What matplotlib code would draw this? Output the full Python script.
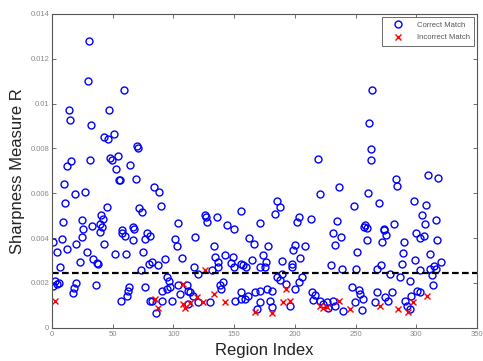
import numpy as np
import matplotlib
matplotlib.use("Agg")
import matplotlib.pyplot as plt

plt.rcParams['font.family'] = ['Liberation Sans', 'DejaVu Sans']

# correct matches (region index, sharpness R)
correct_x = [30.5, 29.4, 59, 14, 15, 32, 47, 43, 46, 51, 70, 71, 16, 12.6, 31, 48, 49, 54,
             53, 64.5, 55, 56, 69, 10, 84, 88, 18.7, 27, 10.7, 45, 72, 74.4, 90, 40, 42,
             8.8, 24.5, 104, 126, 127, 128, 136, 156, 144,
             263.6, 261, 262.5, 262.5, 219, 283, 284, 309.7, 318, 221, 236, 260, 185, 188,
             183.7, 249, 269, 298.5, 308, 305, 316, 307, 203.7, 202, 213.6, 235, 171, 282,
             258, 257, 273,
             25.8, 33, 39.5, 41.4, 39.5, 0.8, 8, 12, 20, 24.5, 28.6, 42.8, 34, 36.8, 38, 23,
             52, 61, 58, 60, 66.5, 67.5, 67, 75, 78, 76.6, 80, 6.6, 73, 4, 57.4, 80.7,
             2.5, 4, 1, 6, 19.8, 18, 17, 36, 63.7, 62.3, 61.5, 56.6, 76.6, 80.7, 86,
             150, 101, 103, 118, 133.7, 107, 93, 82, 87.6, 117, 134, 136.5, 142.5, 149,
             147.5, 150, 156, 137, 120.5, 131.5,
             94.5, 96, 90.3, 94.5, 97, 104, 105.4, 111.7, 113.7, 116.4, 111, 138, 140.6,
             139, 82, 90.3, 98.6, 112.3, 120.5, 130, 150.7, 156,
             162.5, 166.4, 178, 200, 198.8, 208.4, 204, 198, 197.4, 189, 174, 176, 175.5,
             157.6, 164.5, 160, 231.7, 233, 229.5, 171, 189, 185.6, 188, 205.7, 203.7,
             193, 156, 159, 161.7, 167, 171, 177, 181, 171, 168.6, 179.6, 181, 200, 196,
             214, 216.6, 215, 220.8, 223.5, 226.8, 227.6, 231.7,
             259, 273, 275, 300, 306.7, 303, 259, 238, 290, 289.4, 288, 317, 311, 320, 315,
             311.4, 251, 299, 238.6, 250, 271, 267.5, 278.4, 286.7, 295, 303, 312.8, 314,
             271.6,
             247, 253, 253.7, 256.5, 249.6, 255, 240, 233, 267.5, 266, 274, 277, 280,
             290.8, 292, 295.7, 301, 303, 295, 316]
correct_y = [0.01281, 0.0110, 0.01063, 0.00971, 0.00925, 0.00907, 0.00971, 0.00851, 0.00841,
             0.00863, 0.00811, 0.00801, 0.00743, 0.00721, 0.00748, 0.00759, 0.00748, 0.00767,
             0.00708, 0.00725, 0.0066, 0.0066, 0.00663, 0.00642, 0.00626, 0.00604, 0.00599,
             0.00604, 0.00557, 0.0054, 0.00533, 0.00518, 0.00542, 0.00505, 0.00484,
             0.00471, 0.00483, 0.00468, 0.00505, 0.00496, 0.00471, 0.00496, 0.00523, 0.00459,
             0.01063, 0.00913, 0.00796, 0.0075, 0.00752, 0.00665, 0.00631, 0.00681, 0.0067,
             0.00599, 0.00628, 0.00603, 0.00564, 0.0054, 0.00509, 0.00544, 0.00555, 0.00564,
             0.00546, 0.00504, 0.00481, 0.00462, 0.00496, 0.00474, 0.00484, 0.00475, 0.00466,
             0.00464, 0.00459, 0.00449, 0.00441,
             0.0044, 0.00454, 0.00463, 0.00451, 0.00428, 0.00383, 0.00394, 0.00351, 0.00373,
             0.00406, 0.00336, 0.00372, 0.00309, 0.00289, 0.00283, 0.00292, 0.00331, 0.00331,
             0.00421, 0.00409, 0.00451, 0.00439, 0.00391, 0.00338, 0.00421, 0.00394, 0.00286,
             0.00271, 0.00256, 0.00338, 0.00436, 0.00409,
             0.00211, 0.00196, 0.00187, 0.00202, 0.00201, 0.00178, 0.00157, 0.00189, 0.00181,
             0.00163, 0.00144, 0.00121, 0.00181, 0.00121, 0.00066,
             0.00439, 0.00395, 0.00364, 0.00403, 0.00364, 0.00313, 0.00309, 0.00294, 0.00279,
             0.00271, 0.00316, 0.00294, 0.00324, 0.00316, 0.00289, 0.00271, 0.00286, 0.00271,
             0.00238, 0.00256,
             0.00226, 0.00211, 0.00166, 0.00174, 0.00181, 0.00189, 0.00151, 0.00166, 0.00159,
             0.00144, 0.00189, 0.00189, 0.00204, 0.00174, 0.00121, 0.00121, 0.00121, 0.00106,
             0.00114, 0.00114, 0.00121, 0.00129,
             0.00399, 0.00373, 0.00364, 0.00369, 0.00349, 0.00364, 0.00313, 0.00286, 0.00271,
             0.00298, 0.00324, 0.00294, 0.00271, 0.00279, 0.00301, 0.00271, 0.00421, 0.00369,
             0.00279, 0.00271, 0.00241, 0.00226, 0.00214, 0.00226, 0.00204,
             0.00196, 0.00159, 0.00129, 0.00144, 0.00159, 0.00166, 0.00174, 0.00166, 0.00114,
             0.00084, 0.00121, 0.00091, 0.00174, 0.00099, 0.00159, 0.00148, 0.00124, 0.00121,
             0.00106, 0.00114, 0.00088, 0.00121,
             0.00444, 0.00436, 0.00413, 0.00421, 0.0041, 0.00399, 0.00391, 0.00403, 0.00381,
             0.00334, 0.00286, 0.00391, 0.00331, 0.00294, 0.00274, 0.00264, 0.00338, 0.00301,
             0.00264, 0.00264, 0.00279, 0.00264, 0.00241, 0.00226, 0.00211, 0.00256, 0.00234,
             0.00189, 0.00383,
             0.00181, 0.00169, 0.00151, 0.00129, 0.00114, 0.0008, 0.00076, 0.00099, 0.00159,
             0.00114, 0.00136, 0.00121, 0.00159, 0.00121, 0.00099, 0.00144, 0.00166, 0.00159,
             0.00084, 0.00264]

# incorrect matches
incorrect_x = [2.5, 84.5, 87, 108, 108, 109.5, 113.7, 119, 124.6, 133, 142.5, 126,
               167, 181, 193, 190.5, 196, 220.8, 223.5, 226.4,
               236, 245.5, 270, 285, 293.5, 297.6, 308.6]
incorrect_y = [0.00121, 0.0013, 0.00088, 0.00196, 0.00106, 0.00088, 0.00109, 0.00136, 0.00114,
               0.00151, 0.00114, 0.00256,
               0.00069, 0.00064, 0.00174, 0.00114, 0.00121, 0.00099, 0.00088, 0.00091,
               0.00121, 0.00084, 0.00099, 0.00084, 0.00069, 0.00114, 0.00144]

threshold = 0.00245

xticks = [0, 50, 100, 150, 200, 250, 300, 350]
yticks = [0, 0.002, 0.004, 0.006, 0.008, 0.01, 0.012, 0.014]
ytick_labels = ['0', '0.002', '0.004', '0.006', '0.008', '0.01', '0.012', '0.014']

fig = plt.figure(figsize=(4.83, 3.61), dpi=100)
ax = fig.add_axes([52/483, 1-327.8/361, 425/483, 313.8/361])

ax.plot(correct_x, correct_y, 'o', mfc='none', mec='#0000ff', mew=1.0, ms=5,
        label='Correct Match')
ax.plot(incorrect_x, incorrect_y, 'x', color='#ff0000', mew=1.0, ms=4.5,
        label='Incorrect Match')
ax.axhline(threshold, color='black', lw=1.6, ls=(0, (3, 1.5)))

ax.set_xlim(0, 350)
ax.set_ylim(0, 0.014)
ax.set_xticks(xticks)
ax.set_xticklabels([str(t) for t in xticks])
ax.set_yticks(yticks)
ax.set_yticklabels(ytick_labels)
ax.tick_params(direction='in', length=3, width=0.6, top=True, right=True,
               labelsize=5.5, labelcolor='#888888', color='#555555', pad=2)
for s in ax.spines.values():
    s.set_color('#555555')
    s.set_linewidth(0.8)

ax.set_xlabel('Region Index', fontsize=12, color='#222222', labelpad=4)
ax.set_ylabel('Sharpness Measure R', fontsize=12, color='#222222', labelpad=4)

leg = ax.legend(loc='upper right', fontsize=5.5, fancybox=False, framealpha=1,
                edgecolor='#555555', borderaxespad=0.35, handlelength=3.2,
                labelspacing=0.7, borderpad=0.6, labelcolor='#555555')
leg.get_frame().set_linewidth(0.6)

fig.savefig('out.png', dpi=100)
